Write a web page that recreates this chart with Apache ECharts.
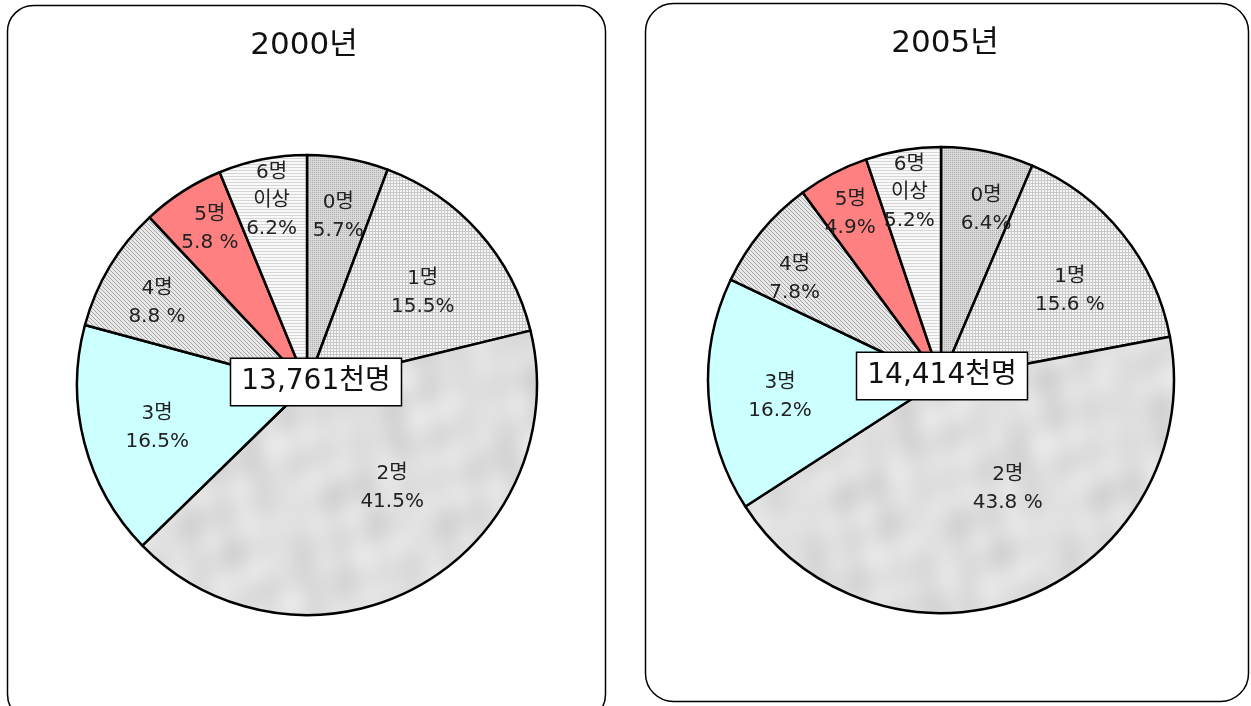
<!DOCTYPE html>
<html>
<head>
<meta charset="utf-8">
<script src="https://cdn.jsdelivr.net/npm/echarts@6/dist/echarts.min.js"></script>
<style>
  html, body { margin: 0; padding: 0; background: #fff; }
  #chart { width: 1251px; height: 706px; }
</style>
</head>
<body>
<div id="chart"></div>
<script>
// Household size groups, clockwise from 12 o'clock
const categories = ['0명', '1명', '2명', '3명', '4명', '5명', '6명\n이상'];
const years = ['2000년', '2005년'];
const share2000 = [5.7, 15.5, 41.5, 16.5, 8.8, 5.8, 6.2];
const share2005 = [6.4, 15.6, 43.8, 16.2, 7.8, 4.9, 5.2];
const totals = ['13,761', '14,414'];   // 천명
const totalUnit = '천명';
// separator written between the number and the % sign in each label
const pctSep2000 = ['', '', '', '', ' ', ' ', ''];
const pctSep2005 = ['', ' ', ' ', '', '', '', ''];

// ---- fill textures -------------------------------------------------------
function pattern(w, h, draw) {
  const c = document.createElement('canvas');
  c.width = w; c.height = h;
  const g = c.getContext('2d');
  draw(g, w, h);
  return { image: c, repeat: 'repeat' };
}
// wave directions (whole cycles per tile) used for the marbled texture
const marbleWaves = [[2, 1, 0.3], [-1, 3, 1.7], [3, -2, 2.9], [4, 3, 4.1],
                     [-5, 2, 0.9], [1, 6, 5.3], [7, -1, 3.6], [-3, -5, 2.2]];
const fills = [
  // fine dotted gray
  pattern(2, 2, (g) => {
    g.fillStyle = '#d8d8d8'; g.fillRect(0, 0, 2, 2);
    g.fillStyle = '#b0b0b0'; g.fillRect(0, 0, 1, 1);
  }),
  // small grid
  pattern(3, 3, (g) => {
    g.fillStyle = '#f6f6f6'; g.fillRect(0, 0, 3, 3);
    g.fillStyle = '#c8c8c8'; g.fillRect(0, 0, 3, 1); g.fillRect(0, 0, 1, 3);
  }),
  // soft marbled gray
  pattern(256, 256, (g, w, h) => {
    const img = g.createImageData(w, h);
    const T = 2 * Math.PI / 256;
    for (let y = 0; y < h; y++) {
      for (let x = 0; x < w; x++) {
        let v = 222;
        for (const [a, b, ph] of marbleWaves) {
          v += 2.0 * Math.sin(T * (a * x + b * y) + ph);
        }
        const i = (y * w + x) * 4;
        img.data[i] = img.data[i + 1] = img.data[i + 2] = Math.round(v);
        img.data[i + 3] = 255;
      }
    }
    g.putImageData(img, 0, 0);
  }),
  '#ccffff',
  // diagonal hatch
  pattern(4, 4, (g) => {
    g.fillStyle = '#e8e8e8'; g.fillRect(0, 0, 4, 4);
    g.fillStyle = '#a6a6a6';
    for (let i = 0; i < 4; i++) g.fillRect(i, i, 1, 1);
  }),
  '#ff8080',
  // horizontal fine lines
  pattern(2, 3, (g) => {
    g.fillStyle = '#f9f9f9'; g.fillRect(0, 0, 2, 3);
    g.fillStyle = '#d6d6d6'; g.fillRect(0, 2, 2, 1);
  })
];

// ---- layout --------------------------------------------------------------
const LABEL_DROP = 4;   // small downward nudge for every slice label
const pies = [
  { values: share2000, seps: pctSep2000, cx: 307, cy: 385, r: 230,
    labelR: [0.75, 0.64, 0.555, 0.66, 0.74, 0.80, 0.82],
    labelTurn: [0, 2, -12, 0, -1, 1.5, 0.5],
    boxDx: 9, boxDy: -3, titleX: 304, titleY: 46 },
  { values: share2005, seps: pctSep2005, cx: 941, cy: 380, r: 233,
    labelR: [0.76, 0.67, 0.52, 0.68, 0.76, 0.815, 0.82],
    labelTurn: [3, 3, -11, -1, -4, -0.5, 0],
    boxDx: 1, boxDy: -4, titleX: 945, titleY: 44 }
];

const FONT = '"DejaVu Sans", "Noto Sans CJK KR", sans-serif';

function buildSeries(p) {
  const sum = p.values.reduce((a, b) => a + b, 0);
  let acc = 0;
  const data = p.values.map((v, i) => {
    const mid = (acc + v / 2) / sum;
    acc += v;
    const th0 = mid * 2 * Math.PI;
    const th = th0 + p.labelTurn[i] * Math.PI / 180;
    const rr = p.labelR[i] * p.r;
    // move the label from the default mid-radius spot to the wanted spot
    const ox = rr * Math.sin(th) - 0.5 * p.r * Math.sin(th0);
    const oy = -rr * Math.cos(th) + 0.5 * p.r * Math.cos(th0) + LABEL_DROP;
    return {
      name: categories[i],
      value: v,
      itemStyle: { color: fills[i] },
      label: {
        offset: [ox, oy],
        formatter: categories[i] + '\n' + v.toFixed(1) + p.seps[i] + '%'
      }
    };
  });
  return {
    type: 'pie',
    center: [p.cx, p.cy],
    radius: [0, p.r],
    startAngle: 90,
    clockwise: true,
    avoidLabelOverlap: false,
    silent: true,
    itemStyle: { borderColor: '#000', borderWidth: 2.5 },
    label: {
      show: true, position: 'inside', color: '#222',
      fontFamily: FONT, fontSize: 20, lineHeight: 28, align: 'center'
    },
    labelLine: { show: false },
    emphasis: { disabled: true },
    data
  };
}

const graphics = [
  { type: 'rect', shape: { x: 7.5, y: 5.5, width: 598, height: 715, r: 26 },
    style: { fill: '#fff', stroke: '#000', lineWidth: 1.5 }, z: -10 },
  { type: 'rect', shape: { x: 645.5, y: 3.5, width: 603, height: 698, r: 28 },
    style: { fill: '#fff', stroke: '#000', lineWidth: 1.5 }, z: -10 }
];
pies.forEach((p, k) => {
  graphics.push({
    type: 'text', z: 10,
    style: { x: p.titleX, y: p.titleY, text: years[k], fill: '#111',
      font: '31px ' + FONT, align: 'center', verticalAlign: 'middle' }
  });
  graphics.push({
    type: 'text', z: 10,
    style: { x: p.cx + p.boxDx, y: p.cy + p.boxDy, text: totals[k] + totalUnit,
      fill: '#111', font: '28px ' + FONT, align: 'center', verticalAlign: 'middle',
      backgroundColor: '#fff', borderColor: '#000', borderWidth: 1.5,
      padding: [6, 10, 6, 10], lineHeight: 34 }
  });
});

const chart = echarts.init(document.getElementById('chart'), null, { renderer: 'canvas' });
chart.setOption({
  animation: false,
  backgroundColor: '#fff',
  graphic: graphics,
  series: pies.map(buildSeries)
});
</script>
</body>
</html>
